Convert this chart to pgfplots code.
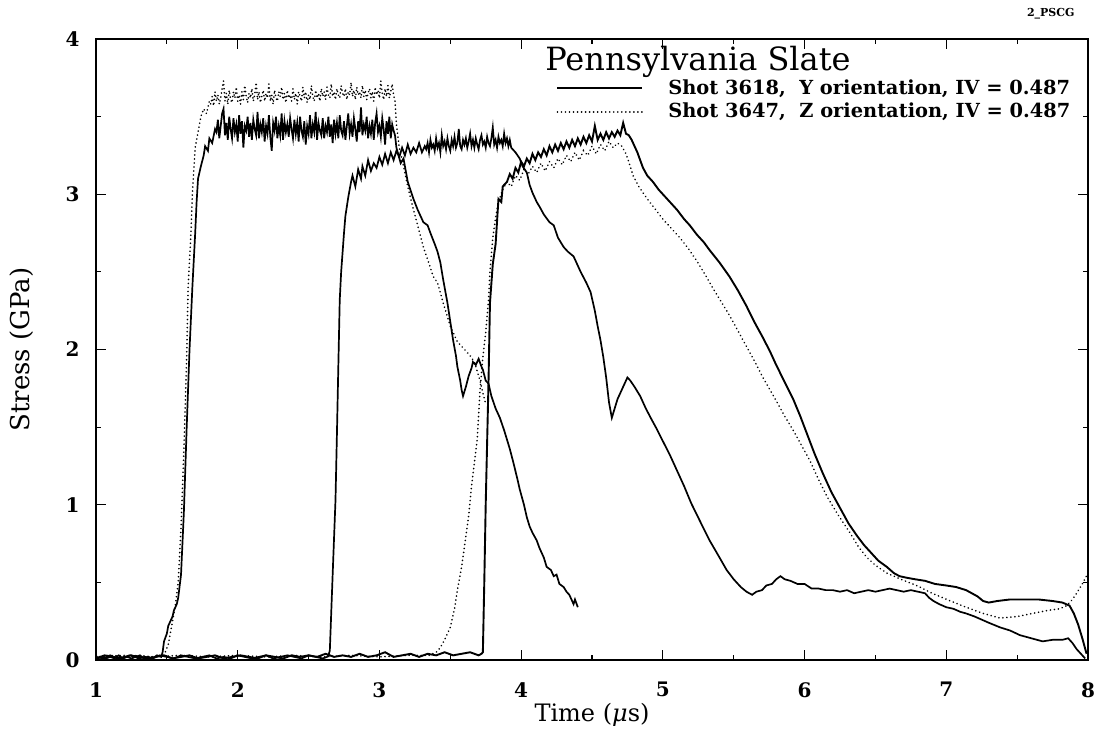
\documentclass[border=0pt]{standalone}
\usepackage{pgfplots}
\pgfplotsset{compat=1.18}
\usepackage{fontspec}
\setmainfont{DejaVu Serif}
\begin{document}
\begin{tikzpicture}
\path[use as bounding box] (-48pt,-35pt) rectangle (501.5pt,330pt);
\begin{axis}[
  at={(0pt,0pt)}, anchor=south west,
  scale only axis, width=496pt, height=310.5pt,
  xmin=1, xmax=8, ymin=0, ymax=4,
  xtick={1,...,8}, ytick={0,...,4},
  minor x tick num=1, minor y tick num=1,
  tick align=inside,
  major tick length=5pt, minor tick length=2.5pt,
  every tick/.style={black, line width=0.6pt},
  axis line style={line width=1.1pt},
  /pgf/number format/assume math mode=true,
  xticklabel style={font=\bfseries\fontsize{10}{12}\selectfont, anchor=north, inner sep=0pt, yshift=-11pt},
  yticklabel style={font=\bfseries\fontsize{10}{12}\selectfont, anchor=east, inner sep=0pt, xshift=-8pt},
  xlabel={Time (\textit{μ}s)},
  ylabel={Stress (GPa)},
  xlabel style={font=\fontsize{12}{14}\selectfont, at={(axis description cs:0.5,-0.0886)}, anchor=center},
  ylabel style={font=\fontsize{13}{15}\selectfont, at={(axis description cs:-0.0746,0.5)}, anchor=center},
  legend style={draw=none, fill=none, at={(axis cs:4.25,3.607)}, anchor=west, inner sep=0pt, outer sep=0pt, row sep=0pt,
    font=\bfseries\fontsize{9.7}{12}\selectfont,
    nodes={inner sep=1.5pt},
    /tikz/every odd column/.append style={column sep=11pt}},
  legend image code/.code={\draw[#1] (0pt,0pt) -- (42.5pt,0pt);},
  legend cell align=left,
  solidA/.style={black, line width=0.85pt},
  dotA/.style={black, line width=0.9pt, line cap=round, dash pattern=on 0.01pt off 2pt},
]
% Shot 3618, gauge 1
\addplot[solidA] coordinates {
(1.00,0.03)(1.01,0.01)(1.04,0.02)(1.07,0.01)(1.10,0.02)(1.13,0.01)(1.16,0.03)(1.19,0.01)(1.22,0.02)(1.25,0.01)(1.28,0.02)(1.31,0.03)(1.34,0.01)(1.37,0.02)(1.40,0.01)(1.43,0.03)(1.46,0.02)
(1.47,0.05)(1.48,0.12)(1.50,0.17)(1.51,0.22)(1.52,0.24)(1.54,0.28)(1.55,0.32)(1.57,0.36)(1.58,0.40)(1.60,0.55)(1.62,0.95)(1.64,1.50)(1.66,2.00)(1.68,2.40)(1.70,2.75)(1.71,2.95)(1.72,3.10)(1.74,3.18)(1.76,3.25)(1.77,3.31)(1.79,3.28)(1.80,3.36)(1.82,3.33)(1.84,3.42)
(1.85,3.40)(1.86,3.48)(1.87,3.36)(1.88,3.44)(1.89,3.52)(1.90,3.55)(1.91,3.38)(1.92,3.46)(1.93,3.35)(1.94,3.50)(1.95,3.42)(1.96,3.36)(1.97,3.49)(1.98,3.40)(1.99,3.45)(2.00,3.34)(2.01,3.51)(2.02,3.39)(2.03,3.47)(2.04,3.30)(2.05,3.44)(2.06,3.41)(2.07,3.50)(2.08,3.37)(2.09,3.46)(2.10,3.35)(2.11,3.48)(2.12,3.42)(2.13,3.38)(2.14,3.53)(2.15,3.36)(2.16,3.45)(2.17,3.40)(2.18,3.49)(2.19,3.34)(2.20,3.44)(2.21,3.39)(2.22,3.51)(2.23,3.37)(2.24,3.28)(2.25,3.46)(2.26,3.41)(2.27,3.50)(2.28,3.36)(2.29,3.44)(2.30,3.38)(2.31,3.52)(2.32,3.35)(2.33,3.47)(2.34,3.40)(2.35,3.45)(2.36,3.37)(2.37,3.49)(2.38,3.42)(2.39,3.36)(2.40,3.48)(2.41,3.39)(2.42,3.46)(2.43,3.34)(2.44,3.50)(2.45,3.41)(2.46,3.37)(2.47,3.47)(2.48,3.32)(2.49,3.44)(2.50,3.39)(2.51,3.51)(2.52,3.36)(2.53,3.45)(2.54,3.40)(2.55,3.53)(2.56,3.35)(2.57,3.46)(2.58,3.41)(2.59,3.38)(2.60,3.49)(2.61,3.36)(2.62,3.44)(2.63,3.40)(2.64,3.50)(2.65,3.37)(2.66,3.45)(2.67,3.33)(2.68,3.48)(2.69,3.39)(2.70,3.46)(2.71,3.36)(2.72,3.51)(2.73,3.41)(2.74,3.38)(2.75,3.47)(2.76,3.35)(2.77,3.44)(2.78,3.52)(2.79,3.39)(2.80,3.45)(2.81,3.37)(2.82,3.49)(2.83,3.42)(2.84,3.34)(2.85,3.47)(2.86,3.40)(2.87,3.56)(2.88,3.38)(2.89,3.45)(2.90,3.41)(2.91,3.50)(2.92,3.36)(2.93,3.44)(2.94,3.39)(2.95,3.48)(2.96,3.35)(2.97,3.46)(2.98,3.52)(2.99,3.40)(3.00,3.44)(3.01,3.37)(3.02,3.49)(3.03,3.42)(3.04,3.32)(3.05,3.47)(3.06,3.39)(3.07,3.50)(3.08,3.36)(3.09,3.45)(3.10,3.41)(3.11,3.38)
(3.12,3.30)(3.15,3.20)(3.17,3.23)(3.20,3.08)(3.24,2.97)(3.27,2.90)(3.31,2.82)(3.34,2.80)(3.36,2.75)(3.39,2.68)(3.41,2.63)(3.43,2.56)(3.45,2.45)(3.48,2.30)(3.50,2.18)(3.52,2.06)(3.54,1.96)(3.55,1.89)(3.57,1.80)(3.58,1.74)(3.59,1.70)(3.61,1.76)(3.63,1.83)(3.65,1.88)(3.66,1.92)(3.68,1.90)(3.70,1.94)(3.72,1.89)(3.73,1.87)(3.75,1.80)(3.77,1.78)(3.79,1.70)(3.82,1.62)(3.85,1.56)(3.88,1.48)(3.90,1.42)(3.92,1.36)(3.94,1.29)(3.97,1.18)(3.99,1.10)(4.02,1.00)(4.04,0.92)(4.06,0.86)(4.08,0.82)(4.11,0.77)(4.13,0.72)(4.16,0.66)(4.18,0.60)(4.21,0.58)(4.23,0.54)(4.25,0.55)(4.27,0.49)(4.30,0.47)(4.32,0.44)(4.34,0.42)(4.35,0.40)(4.37,0.36)(4.38,0.39)(4.40,0.34)
};
\addlegendentry{Shot 3618,\ \ Y orientation, IV = 0.487}
% Shot 3647, gauge 1
\addplot[dotA] coordinates {
(1.00,0.02)(1.10,0.03)(1.20,0.02)(1.30,0.03)(1.40,0.02)(1.48,0.03)
(1.51,0.10)(1.53,0.20)(1.56,0.35)(1.58,0.50)(1.60,0.85)(1.62,1.35)(1.64,1.95)(1.65,2.40)(1.67,2.75)(1.68,3.00)(1.70,3.30)(1.72,3.40)(1.74,3.50)(1.76,3.55)(1.78,3.52)(1.80,3.60)
(1.81,3.58)(1.82,3.63)(1.83,3.57)(1.84,3.66)(1.85,3.60)(1.86,3.64)(1.87,3.58)(1.88,3.62)(1.89,3.68)(1.90,3.73)(1.91,3.60)(1.92,3.65)(1.93,3.58)(1.94,3.67)(1.95,3.61)(1.96,3.59)(1.97,3.66)(1.98,3.62)(1.99,3.69)(2.00,3.60)(2.01,3.64)(2.02,3.58)(2.03,3.66)(2.04,3.61)(2.05,3.70)(2.06,3.63)(2.07,3.59)(2.08,3.65)(2.09,3.62)(2.10,3.68)(2.11,3.60)(2.12,3.64)(2.13,3.72)(2.14,3.61)(2.15,3.66)(2.16,3.59)(2.17,3.63)(2.18,3.67)(2.19,3.60)(2.20,3.65)(2.21,3.62)(2.22,3.71)(2.23,3.60)(2.24,3.64)(2.25,3.58)(2.26,3.67)(2.27,3.62)(2.28,3.60)(2.29,3.66)(2.30,3.63)(2.31,3.69)(2.32,3.61)(2.33,3.65)(2.34,3.59)(2.35,3.67)(2.36,3.62)(2.37,3.64)(2.38,3.60)(2.39,3.68)(2.40,3.61)(2.41,3.65)(2.42,3.58)(2.43,3.66)(2.44,3.63)(2.45,3.60)(2.46,3.69)(2.47,3.62)(2.48,3.66)(2.49,3.59)(2.50,3.64)(2.51,3.61)(2.52,3.70)(2.53,3.63)(2.54,3.60)(2.55,3.67)(2.56,3.62)(2.57,3.65)(2.58,3.60)(2.59,3.68)(2.60,3.63)(2.61,3.66)(2.62,3.61)(2.63,3.69)(2.64,3.64)(2.65,3.62)(2.66,3.71)(2.67,3.63)(2.68,3.66)(2.69,3.61)(2.70,3.68)(2.71,3.64)(2.72,3.62)(2.73,3.70)(2.74,3.65)(2.75,3.63)(2.76,3.68)(2.77,3.61)(2.78,3.66)(2.79,3.64)(2.80,3.72)(2.81,3.63)(2.82,3.67)(2.83,3.61)(2.84,3.69)(2.85,3.64)(2.86,3.66)(2.87,3.62)(2.88,3.70)(2.89,3.63)(2.90,3.67)(2.91,3.61)(2.92,3.65)(2.93,3.68)(2.94,3.62)(2.95,3.66)(2.96,3.60)(2.97,3.69)(2.98,3.64)(2.99,3.67)(3.00,3.62)(3.01,3.73)(3.02,3.65)(3.03,3.61)(3.04,3.68)(3.05,3.63)(3.06,3.70)(3.07,3.62)(3.08,3.66)(3.09,3.71)(3.10,3.64)(3.11,3.60)
(3.12,3.45)(3.14,3.30)(3.17,3.18)(3.20,3.05)(3.24,2.90)(3.27,2.80)(3.31,2.66)(3.34,2.58)(3.38,2.47)(3.41,2.43)(3.45,2.30)(3.50,2.15)(3.55,2.05)(3.58,2.02)(3.61,1.99)(3.64,1.96)(3.67,1.92)(3.69,1.86)(3.71,1.80)(3.73,1.72)(3.75,1.65)
};
\addlegendentry{Shot 3647,\ \ Z orientation, IV = 0.487}
% Shot 3618, gauge 2
\addplot[solidA, forget plot] coordinates {
(1.00,0.02)(1.05,0.01)(1.10,0.03)(1.15,0.01)(1.20,0.02)(1.25,0.03)(1.30,0.01)(1.35,0.02)(1.40,0.01)(1.45,0.03)(1.50,0.02)(1.55,0.01)(1.60,0.03)(1.65,0.02)(1.70,0.01)(1.75,0.02)(1.80,0.03)(1.85,0.01)(1.90,0.02)(1.95,0.01)(2.00,0.03)(2.05,0.02)(2.10,0.01)(2.15,0.02)(2.20,0.03)(2.25,0.01)(2.30,0.02)(2.35,0.03)(2.40,0.02)(2.45,0.01)(2.50,0.03)(2.55,0.02)(2.60,0.01)(2.63,0.02)
(2.64,0.03)(2.65,0.06)(2.67,0.55)(2.69,1.03)(2.70,1.45)(2.71,1.89)(2.72,2.32)(2.73,2.50)(2.75,2.75)(2.76,2.86)(2.78,2.98)(2.80,3.08)(2.81,3.12)(2.83,3.05)(2.85,3.16)(2.87,3.10)(2.88,3.18)(2.90,3.12)(2.92,3.22)(2.94,3.15)(2.96,3.20)(2.98,3.17)(3.00,3.24)(3.02,3.19)(3.04,3.26)(3.06,3.20)(3.08,3.27)(3.10,3.22)(3.12,3.28)(3.14,3.24)(3.16,3.30)(3.18,3.25)(3.20,3.32)(3.22,3.26)(3.24,3.30)(3.26,3.27)(3.28,3.33)(3.30,3.27)(3.32,3.31)
(3.33,3.29)(3.34,3.33)(3.35,3.27)(3.36,3.35)(3.37,3.30)(3.38,3.32)(3.39,3.28)(3.40,3.36)(3.41,3.30)(3.42,3.33)(3.43,3.27)(3.44,3.38)(3.45,3.31)(3.46,3.34)(3.47,3.29)(3.48,3.36)(3.49,3.31)(3.50,3.28)(3.51,3.35)(3.52,3.31)(3.53,3.37)(3.54,3.30)(3.55,3.33)(3.56,3.42)(3.57,3.31)(3.58,3.29)(3.59,3.35)(3.60,3.32)(3.61,3.36)(3.62,3.30)(3.63,3.34)(3.64,3.39)(3.65,3.31)(3.66,3.35)(3.67,3.30)(3.68,3.36)(3.69,3.32)(3.70,3.29)(3.71,3.35)(3.72,3.38)(3.73,3.32)(3.74,3.34)(3.75,3.30)(3.76,3.37)(3.77,3.33)(3.78,3.31)(3.79,3.36)(3.80,3.43)(3.81,3.32)(3.82,3.35)(3.83,3.30)(3.84,3.37)(3.85,3.33)(3.86,3.35)(3.87,3.31)(3.88,3.39)(3.89,3.33)(3.90,3.36)(3.91,3.31)(3.92,3.35)(3.93,3.30)(3.94,3.29)
(3.96,3.27)(3.99,3.23)(4.01,3.18)(4.04,3.14)(4.06,3.06)(4.08,3.01)(4.11,2.95)(4.13,2.92)(4.16,2.87)(4.20,2.82)(4.23,2.80)(4.26,2.72)(4.30,2.66)(4.33,2.63)(4.37,2.60)(4.40,2.54)(4.42,2.50)(4.46,2.43)(4.49,2.37)(4.52,2.25)(4.54,2.15)(4.56,2.06)(4.58,1.95)(4.60,1.82)(4.62,1.66)(4.64,1.56)(4.66,1.62)(4.68,1.68)(4.71,1.74)(4.73,1.78)(4.75,1.82)(4.77,1.80)(4.80,1.76)(4.84,1.70)(4.88,1.62)(4.92,1.55)(4.95,1.50)(5.00,1.41)(5.05,1.32)(5.10,1.22)(5.15,1.12)(5.20,1.01)(5.27,0.88)(5.33,0.77)(5.40,0.66)(5.45,0.58)(5.50,0.52)(5.55,0.47)(5.59,0.44)(5.63,0.42)(5.66,0.44)(5.70,0.45)(5.73,0.48)(5.77,0.49)(5.80,0.52)(5.83,0.54)(5.86,0.52)(5.90,0.51)(5.95,0.49)(6.00,0.49)(6.05,0.46)(6.10,0.46)(6.15,0.45)(6.20,0.45)(6.25,0.44)(6.30,0.45)(6.35,0.43)(6.40,0.44)(6.45,0.45)(6.50,0.44)(6.55,0.45)(6.60,0.46)(6.65,0.45)(6.70,0.44)(6.75,0.45)(6.80,0.44)(6.85,0.43)(6.88,0.40)(6.91,0.38)(6.95,0.36)(7.00,0.34)(7.05,0.33)(7.10,0.31)(7.14,0.30)(7.20,0.28)(7.25,0.26)(7.30,0.24)(7.38,0.21)(7.45,0.19)(7.52,0.16)(7.60,0.14)(7.68,0.12)(7.75,0.13)(7.82,0.13)(7.86,0.14)(7.89,0.11)(7.92,0.07)(7.95,0.04)(7.98,0.01)
};
% Shot 3618, gauge 3
\addplot[solidA, line width=0.95pt, forget plot] coordinates {
(1.00,0.01)(1.06,0.03)(1.12,0.02)(1.18,0.01)(1.24,0.03)(1.30,0.02)(1.36,0.01)(1.42,0.02)(1.48,0.03)(1.54,0.01)(1.60,0.02)(1.66,0.03)(1.72,0.01)(1.78,0.02)(1.84,0.03)(1.90,0.01)(1.96,0.02)(2.02,0.03)(2.08,0.02)(2.14,0.01)(2.20,0.03)(2.26,0.02)(2.32,0.01)(2.38,0.03)(2.44,0.02)(2.50,0.03)(2.56,0.02)(2.62,0.04)(2.68,0.02)(2.74,0.03)(2.80,0.02)(2.86,0.04)(2.92,0.02)(2.98,0.03)(3.04,0.05)(3.10,0.02)(3.16,0.03)(3.22,0.04)(3.28,0.02)(3.34,0.04)(3.40,0.03)(3.46,0.05)(3.52,0.03)(3.58,0.04)(3.64,0.05)(3.70,0.03)(3.72,0.04)
(3.73,0.05)(3.74,0.50)(3.75,1.00)(3.76,1.40)(3.77,1.80)(3.78,2.30)(3.80,2.55)(3.82,2.68)(3.84,2.97)(3.86,2.95)(3.87,3.05)
(3.90,3.08)(3.92,3.13)(3.94,3.10)(3.96,3.17)(3.98,3.14)(4.00,3.21)(4.02,3.18)(4.04,3.23)(4.06,3.20)(4.08,3.26)(4.10,3.22)(4.12,3.27)(4.14,3.24)(4.16,3.29)(4.18,3.25)(4.20,3.31)(4.22,3.27)(4.24,3.32)(4.26,3.28)(4.28,3.33)(4.30,3.29)(4.32,3.34)(4.34,3.30)(4.36,3.35)(4.38,3.31)(4.40,3.36)(4.42,3.32)(4.44,3.37)(4.46,3.33)(4.48,3.38)(4.50,3.34)(4.52,3.44)(4.54,3.35)(4.56,3.39)(4.58,3.35)(4.60,3.40)(4.62,3.36)(4.64,3.40)(4.66,3.37)(4.68,3.41)(4.70,3.38)(4.72,3.46)(4.74,3.39)(4.76,3.38)
(4.78,3.35)(4.80,3.31)(4.82,3.27)(4.84,3.22)(4.86,3.17)(4.89,3.12)(4.93,3.08)(4.97,3.03)(5.01,2.99)(5.05,2.95)(5.10,2.90)(5.15,2.84)(5.19,2.80)(5.24,2.74)(5.29,2.69)(5.33,2.64)(5.40,2.56)(5.47,2.47)(5.53,2.38)(5.59,2.28)(5.65,2.17)(5.71,2.07)(5.76,1.98)(5.80,1.90)(5.86,1.79)(5.92,1.68)(5.97,1.57)(6.02,1.45)(6.07,1.33)(6.13,1.20)(6.19,1.08)(6.25,0.98)(6.31,0.88)(6.37,0.80)(6.42,0.74)(6.46,0.70)(6.52,0.64)(6.58,0.60)(6.63,0.56)(6.67,0.54)(6.72,0.53)(6.78,0.52)(6.85,0.51)(6.92,0.49)(7.00,0.48)(7.07,0.47)(7.14,0.45)(7.18,0.43)(7.22,0.41)(7.26,0.38)(7.30,0.37)(7.36,0.38)(7.45,0.39)(7.55,0.39)(7.65,0.39)(7.75,0.38)(7.82,0.37)(7.87,0.35)(7.90,0.30)(7.93,0.23)(7.96,0.14)(7.99,0.04)
};
% Shot 3647, gauge 3
\addplot[dotA, forget plot] coordinates {
(1.00,0.02)(1.20,0.03)(1.40,0.02)(1.60,0.03)(1.80,0.02)(2.00,0.03)(2.20,0.02)(2.40,0.03)(2.60,0.02)(2.80,0.03)(3.00,0.02)(3.20,0.03)(3.35,0.03)
(3.40,0.05)(3.43,0.08)(3.46,0.13)(3.50,0.21)(3.53,0.33)(3.55,0.45)(3.58,0.60)(3.60,0.73)(3.63,0.93)(3.65,1.12)(3.67,1.27)(3.69,1.42)(3.71,1.74)(3.73,1.95)(3.75,2.11)(3.77,2.32)(3.78,2.50)(3.80,2.72)(3.82,2.85)(3.84,2.95)(3.87,3.03)(3.90,3.08)
(3.93,3.05)(3.96,3.12)(3.99,3.09)(4.02,3.16)(4.05,3.13)(4.08,3.18)(4.11,3.14)(4.14,3.20)(4.17,3.15)(4.20,3.21)(4.23,3.17)(4.26,3.23)(4.29,3.19)(4.32,3.25)(4.35,3.21)(4.38,3.27)(4.41,3.22)(4.44,3.28)(4.47,3.25)(4.50,3.31)(4.53,3.26)(4.56,3.32)(4.59,3.28)(4.62,3.34)(4.65,3.30)(4.68,3.33)(4.71,3.31)(4.74,3.26)
(4.77,3.18)(4.79,3.12)(4.83,3.05)(4.89,2.97)(4.95,2.90)(5.00,2.84)(5.06,2.78)(5.12,2.72)(5.18,2.65)(5.24,2.57)(5.30,2.48)(5.35,2.40)(5.41,2.31)(5.47,2.22)(5.53,2.12)(5.59,2.02)(5.65,1.92)(5.70,1.83)(5.75,1.75)(5.80,1.67)(5.86,1.57)(5.92,1.48)(5.98,1.38)(6.04,1.28)(6.10,1.16)(6.16,1.05)(6.24,0.93)(6.32,0.82)(6.38,0.73)(6.44,0.66)(6.50,0.61)(6.58,0.56)(6.68,0.52)(6.79,0.48)(6.90,0.43)(7.03,0.38)(7.14,0.34)(7.26,0.30)(7.38,0.27)(7.50,0.28)(7.61,0.30)(7.72,0.32)(7.80,0.33)(7.85,0.35)(7.89,0.39)(7.92,0.43)(7.96,0.49)(8.00,0.56)
};
\node[anchor=base west, font=\fontsize{16}{19}\selectfont, inner sep=0pt] at (axis cs:4.168,3.80) {Pennsylvania Slate};
\end{axis}
\node[anchor=base east, font=\bfseries\fontsize{5.5}{6}\selectfont, inner sep=0pt] at ([xshift=-6.5pt,yshift=11.5pt]current axis.north east) {2\_PSCG};
\end{tikzpicture}
\end{document}
